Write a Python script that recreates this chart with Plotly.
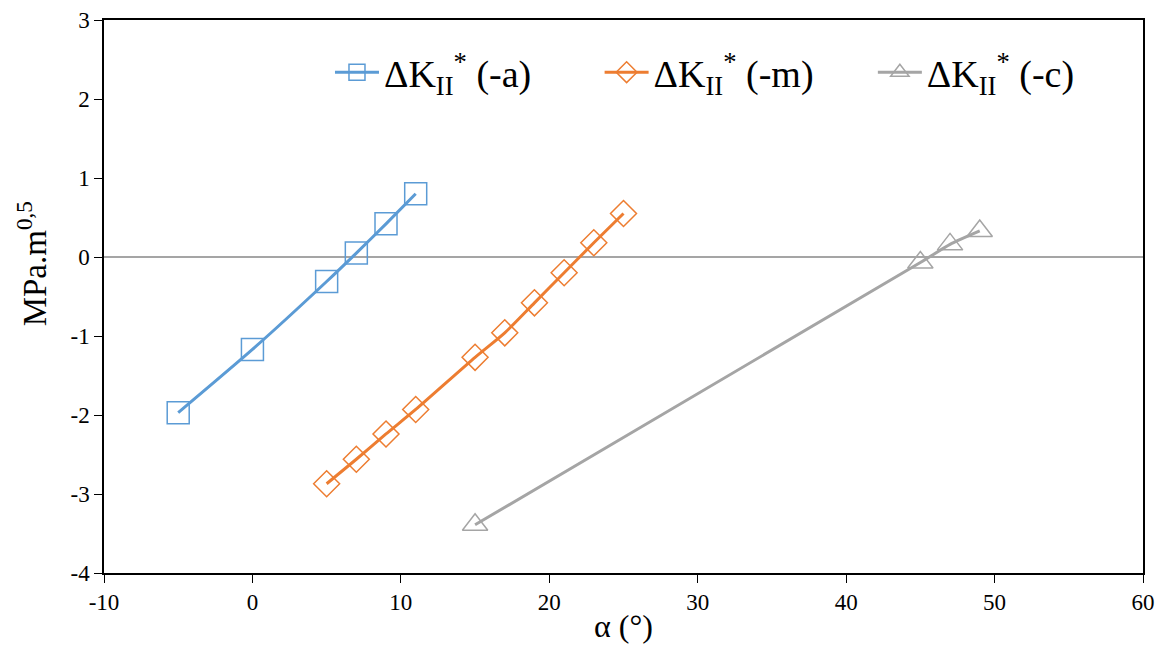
import plotly.graph_objects as go

# Data
x_a = [-5, 0, 5, 7, 9, 11]
y_a = [-1.97, -1.17, -0.31, 0.05, 0.42, 0.80]
x_m = [5, 7, 9, 11, 15, 17, 19, 21, 23, 25]
y_m = [-2.87, -2.56, -2.24, -1.93, -1.27, -0.96, -0.58, -0.20, 0.18, 0.55]
x_c = [15, 45, 47, 49]
y_c = [-3.39, -0.07, 0.16, 0.33]
names = ["ΔK<sub>II</sub><sup>*</sup> (-a)", "ΔK<sub>II</sub><sup>*</sup> (-m)", "ΔK<sub>II</sub><sup>*</sup> (-c)"]
x_ticks = [-10, 0, 10, 20, 30, 40, 50, 60]
x_ticktext = ["-10", "0", "10", "20", "30", "40", "50", "60"]
y_ticks = [-4, -3, -2, -1, 0, 1, 2, 3]
y_ticktext = ["-4", "-3", "-2", "-1", "0", "1", "2", "3"]
colors = ["#5B9BD5", "#ED7D31", "#A5A5A5"]
symbols = ["square-open", "diamond-open", "triangle-up-open"]
sizes = [22, 20, 22]
legend_ids = ["legend", "legend2", "legend3"]
legend_x = [0.2175, 0.477, 0.740]

fig = go.Figure()
for xs, ys, nm, c, s, sz, lg in zip([x_a, x_m, x_c], [y_a, y_m, y_c], names, colors, symbols, sizes, legend_ids):
    fig.add_trace(go.Scatter(
        x=xs, y=ys, name=nm, mode="lines+markers", legend=lg,
        line=dict(color=c, width=3, shape="spline", smoothing=0.6),
        marker=dict(symbol=s, size=sz, color=c, line=dict(width=1.5, color=c)),
    ))

legend_common = dict(orientation="h", y=0.905, xanchor="left", yanchor="middle",
                     font=dict(size=38, family="Liberation Serif"), bgcolor="rgba(0,0,0,0)",
                     itemwidth=44)

fig.update_layout(
    width=1163, height=648,
    margin=dict(l=96, r=28, t=12, b=83, autoexpand=False),
    plot_bgcolor="white", paper_bgcolor="white",
    font=dict(family="Liberation Serif", color="black"),
    showlegend=True,
    legend=dict(x=legend_x[0], **legend_common),
    legend2=dict(x=legend_x[1], **legend_common),
    legend3=dict(x=legend_x[2], **legend_common),
    annotations=[dict(
        text="MPa.m<sup>0,5</sup>", xref="paper", yref="paper",
        x=-0.0695, y=0.5596, xanchor="center", yanchor="middle",
        textangle=-90, showarrow=False,
        font=dict(size=33, family="Liberation Serif", color="black"),
    )],
)
fig.update_xaxes(
    range=[-10, 60], tickvals=x_ticks, ticktext=x_ticktext, automargin=False,
    showgrid=False, zeroline=False,
    showline=True, linecolor="black", linewidth=1.5, mirror=True,
    ticks="outside", ticklen=8, tickcolor="black",
    tickfont=dict(size=23, family="Liberation Serif"),
    title=dict(text="α (°)", font=dict(size=32, family="Liberation Serif"), standoff=0),
)
fig.update_yaxes(
    range=[-4, 3], tickvals=y_ticks, ticktext=y_ticktext, automargin=False,
    showgrid=False, zeroline=True, zerolinecolor="#A5A5A5", zerolinewidth=1.5,
    showline=True, linecolor="black", linewidth=1.5, mirror=True,
    ticks="outside", ticklen=8, tickcolor="black", ticklabeloverflow="allow",
    tickfont=dict(size=23, family="Liberation Serif"),
)

fig.write_html("out.html")
